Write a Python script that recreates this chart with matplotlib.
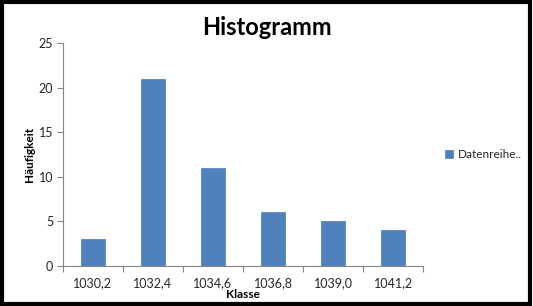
import matplotlib.pyplot as plt
from matplotlib.patches import Rectangle

# ========================= Data =========================#
klassen = ["1030,2", "1032,4", "1034,6", "1036,8", "1039,0", "1041,2"]
haeufigkeit = [3, 21, 11, 6, 5, 4]
y_ticks = [0, 5, 10, 15, 20, 25]

bar_color = "#4F81BD"
axis_color = "#868686"
text_color = "#262626"

plt.rcParams["font.family"] = ["Lato", "DejaVu Sans"]

# ========================= Plot =========================#
fig = plt.figure(figsize=(5.33, 3.06), dpi=100)
ax = fig.add_axes([0.118, 0.131, 0.676, 0.728])

x = list(range(len(klassen)))
ax.bar(x, haeufigkeit, width=0.4, color=bar_color, edgecolor="#4A7DBA",
       linewidth=0.5, label="Datenreihe..", zorder=2)

ax.set_xlim(-0.5, len(klassen) - 0.5)
ax.set_ylim(0, 25)
ax.set_yticks(y_ticks)
ax.set_yticklabels([str(v) for v in y_ticks], fontsize=9, color=text_color)
ax.set_xticks(x)
ax.set_xticklabels(klassen, fontsize=9, color=text_color)
ax.tick_params(axis="x", length=0, pad=8)
ax.tick_params(axis="y", length=4, color=axis_color, width=0.8, pad=3)

# category separator ticks on x axis
ax.set_xticks([i - 0.5 for i in range(len(klassen) + 1)], minor=True)
ax.tick_params(axis="x", which="minor", length=4, color=axis_color, width=0.8)

for s in ["top", "right"]:
    ax.spines[s].set_visible(False)
for s in ["left", "bottom"]:
    ax.spines[s].set_color(axis_color)
    ax.spines[s].set_linewidth(0.8)

ax.set_xlabel("Klasse", fontsize=8.5, fontweight="bold", labelpad=0)
ax.set_ylabel("Häufigkeit", fontsize=8.5, fontweight="bold", labelpad=3)

fig.text(0.5, 0.91, "Histogramm", ha="center", va="center",
         fontsize=17, fontweight="bold")

ax.legend(loc="center left", bbox_to_anchor=(1.03, 0.5), frameon=False,
          fontsize=8.5, handlelength=0.7, handleheight=0.7, handletextpad=0.4,
          labelcolor=text_color)

fig.patches.append(Rectangle((0.004, 0.007), 0.99, 0.986, transform=fig.transFigure,
                             fill=False, edgecolor="black", linewidth=3))

fig.savefig("out.png", dpi=100)
